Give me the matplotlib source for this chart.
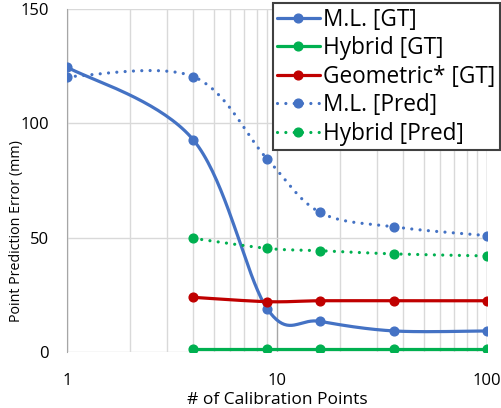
import numpy as np
import matplotlib
matplotlib.use("Agg")
import matplotlib.pyplot as plt
from matplotlib.ticker import FixedLocator, NullFormatter

plt.rcParams['font.family'] = ['Open Sans', 'DejaVu Sans']

calib_pts = [1, 4, 9, 16, 36, 100]
ml_gt = [124.6, 92.7, 18.8, 13.4, 9.2, 9.2]
ml_pred = [120.4, 120.4, 84.3, 61.1, 54.7, 50.9]
hybrid_gt = [1.2, 1.2, 1.2, 1.2, 1.2]          # from 4 calib points on
hybrid_pred = [49.7, 45.3, 44.3, 42.9, 42.0]
geometric_gt = [23.9, 22.0, 22.4, 22.4, 22.4]

BLUE = "#4472C4"
GREEN = "#00B050"
RED = "#C00000"

fig = plt.figure(figsize=(5.01, 4.08), dpi=100)
ax = fig.add_axes([0.1337, 0.1373, 0.972 - 0.1337, 0.978 - 0.1373])
ax.set_xscale('log')
ax.set_xlim(1, 100)
ax.set_ylim(0, 150)


def smooth(xs, ys, n=40):
    # Excel-style smoothed line: Catmull-Rom in display (log-x) space
    px = np.log10(xs) / 2.0 * 420
    py = np.array(ys) * 2.287
    P = np.column_stack([px, py])
    out = [P[0]]
    for i in range(len(P) - 1):
        p0 = P[i - 1] if i > 0 else P[i]
        p1, p2 = P[i], P[i + 1]
        p3 = P[i + 2] if i + 2 < len(P) else P[i + 1]
        c1 = p1 + (p2 - p0) / 6
        c2 = p2 - (p3 - p1) / 6
        t = np.linspace(0, 1, n)[1:, None]
        seg = ((1 - t) ** 3 * p1 + 3 * (1 - t) ** 2 * t * c1
               + 3 * (1 - t) * t ** 2 * c2 + t ** 3 * p2)
        out.extend(seg)
    out = np.array(out)
    return 10 ** (out[:, 0] / 420 * 2.0), out[:, 1] / 2.287


dotted = dict(linestyle=(0, (0.01, 2.6)), dash_capstyle='round')


def series(xs, ys, color, label, ls=None):
    sx, sy = smooth(xs, ys)
    kw = dotted if ls == 'dot' else dict(linestyle='-', solid_capstyle='round')
    ax.plot(sx, sy, color=color, lw=2.3, zorder=3, **kw)
    ax.plot(xs, ys, 'o', color=color, ms=6.3, zorder=4)
    ax.plot([], [], color=color, lw=2.3, marker='o', ms=6.3, label=label, **kw)


series(calib_pts, ml_gt, BLUE, "M.L. [GT]")
series(calib_pts[1:], hybrid_gt, GREEN, "Hybrid [GT]")
series(calib_pts[1:], geometric_gt, RED, "Geometric* [GT]")
series(calib_pts, ml_pred, BLUE, "M.L. [Pred]", ls='dot')
series(calib_pts[1:], hybrid_pred, GREEN, "Hybrid [Pred]", ls='dot')

ax.set_yticks([0, 50, 100, 150])
ax.xaxis.set_major_locator(FixedLocator([1, 10, 100]))
ax.set_xticklabels(['1', '10', '100'])
minors = [m * d for d in (1, 10) for m in range(2, 10)]
ax.xaxis.set_minor_locator(FixedLocator(minors))
ax.xaxis.set_minor_formatter(NullFormatter())
ax.grid(True, which='major', axis='x', color='#A6A6A6', lw=1)
ax.grid(True, which='minor', axis='x', color='#D9D9D9', lw=1)
ax.grid(True, which='major', axis='y', color='#D9D9D9', lw=1)
ax.set_axisbelow(True)
for s in ['top', 'right', 'bottom']:
    ax.spines[s].set_visible(False)
ax.spines['left'].set_color('#A6A6A6')
ax.tick_params(axis='both', which='both', length=0, labelsize=12, colors='black')
ax.tick_params(axis='x', pad=15)
ax.tick_params(axis='y', pad=13)

ax.set_xlabel('# of Calibration Points', fontsize=12.5)
ax.xaxis.label.set_va('center')
ax.xaxis.set_label_coords(0.5, (352 - 400) / 343)
ax.set_ylabel('Point Prediction Error (mm)', fontsize=10.3)
ax.yaxis.label.set_va('center')
ax.yaxis.set_label_coords((17 - 67) / 420, (352 - 231) / 343)

leg = ax.legend(loc='upper right', bbox_to_anchor=(1.03, 1.016), fontsize=16.3,
                frameon=True, fancybox=False, framealpha=1, edgecolor='#404040',
                handlelength=1.9, handletextpad=0.15, labelspacing=0.2,
                borderpad=0.18, borderaxespad=0)
leg.get_frame().set_linewidth(1.5)
leg.set_zorder(10)

fig.savefig('out.png', dpi=100)
